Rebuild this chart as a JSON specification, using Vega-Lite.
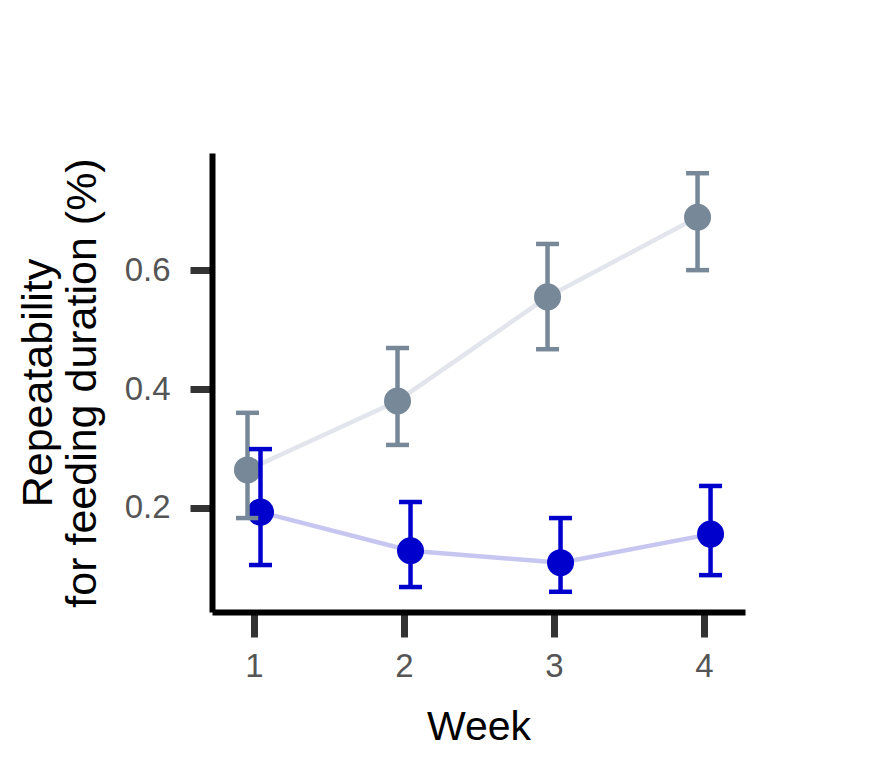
{
  "$schema": "https://vega.github.io/schema/vega-lite/v6.json",
  "width": 533,
  "height": 459,
  "autosize": {"type": "none"},
  "padding": {"left": 212, "top": 153, "right": 139, "bottom": 158},
  "background": "white",
  "config": {
    "view": {"stroke": null},
    "font": "Liberation Sans",
    "axis": {
      "grid": false,
      "domainColor": "black",
      "domainWidth": 6,
      "tickColor": "#333333",
      "tickWidth": 7,
      "labelFont": "Liberation Sans",
      "labelColor": "#555555",
      "titleFont": "Liberation Sans",
      "titleFontWeight": "normal",
      "titleColor": "black"
    }
  },
  "data": {
    "values": [
      {"week": 1, "group": "grey", "value": 0.264, "lower": 0.183, "upper": 0.360},
      {"week": 2, "group": "grey", "value": 0.380, "lower": 0.306, "upper": 0.469},
      {"week": 3, "group": "grey", "value": 0.555, "lower": 0.467, "upper": 0.644},
      {"week": 4, "group": "grey", "value": 0.689, "lower": 0.600, "upper": 0.763},
      {"week": 1, "group": "blue", "value": 0.193, "lower": 0.104, "upper": 0.299},
      {"week": 2, "group": "blue", "value": 0.128, "lower": 0.067, "upper": 0.210},
      {"week": 3, "group": "blue", "value": 0.108, "lower": 0.059, "upper": 0.183},
      {"week": 4, "group": "blue", "value": 0.156, "lower": 0.087, "upper": 0.237}
    ]
  },
  "encoding": {
    "x": {
      "field": "week",
      "type": "quantitative",
      "title": "Week",
      "scale": {"domain": [0.72, 4.273], "nice": false, "zero": false},
      "axis": {
        "values": [1, 2, 3, 4],
        "format": "d",
        "tickSize": 25,
        "labelFontSize": 33,
        "labelPadding": 13,
        "titleFontSize": 41,
        "titlePadding": 24
      }
    }
  },
  "layer": [
    {
      "transform": [{"filter": "datum.group == 'grey'"}],
      "mark": {"type": "line", "xOffset": -6.5, "color": "#e3e5ec", "strokeWidth": 4.5},
      "encoding": {
        "y": {
          "field": "value",
          "type": "quantitative",
          "title": ["Repeatability", "for feeding duration (%)"],
          "scale": {"domain": [0.025, 0.797], "nice": false, "zero": false},
          "axis": {
            "values": [0.2, 0.4, 0.6],
            "format": ".1f",
            "tickSize": 22,
            "labelFontSize": 33,
            "labelPadding": 20,
            "titleFontSize": 43,
            "titleLineHeight": 44,
            "titlePadding": 20
          }
        }
      }
    },
    {
      "transform": [{"filter": "datum.group == 'blue'"}],
      "mark": {"type": "line", "xOffset": 6.5, "color": "#c6c6f0", "strokeWidth": 4.5},
      "encoding": {"y": {"field": "value", "type": "quantitative"}}
    },
    {
      "transform": [{"filter": "datum.group == 'grey'"}],
      "mark": {"type": "circle", "xOffset": -6.5, "color": "#778899", "size": 730, "opacity": 1},
      "encoding": {"y": {"field": "value", "type": "quantitative"}}
    },
    {
      "transform": [{"filter": "datum.group == 'blue'"}],
      "mark": {"type": "circle", "xOffset": 6.5, "color": "#0000cd", "size": 730, "opacity": 1},
      "encoding": {"y": {"field": "value", "type": "quantitative"}}
    },
    {
      "transform": [{"filter": "datum.group == 'grey'"}],
      "mark": {"type": "rule", "xOffset": -6.5, "color": "#778899", "strokeWidth": 4.5},
      "encoding": {"y": {"field": "lower", "type": "quantitative"}, "y2": {"field": "upper"}}
    },
    {
      "transform": [{"filter": "datum.group == 'grey'"}],
      "mark": {"type": "tick", "orient": "horizontal", "xOffset": -6.5, "color": "#778899", "size": 23, "thickness": 4.5, "opacity": 1},
      "encoding": {"y": {"field": "lower", "type": "quantitative"}}
    },
    {
      "transform": [{"filter": "datum.group == 'grey'"}],
      "mark": {"type": "tick", "orient": "horizontal", "xOffset": -6.5, "color": "#778899", "size": 23, "thickness": 4.5, "opacity": 1},
      "encoding": {"y": {"field": "upper", "type": "quantitative"}}
    },
    {
      "transform": [{"filter": "datum.group == 'blue'"}],
      "mark": {"type": "rule", "xOffset": 6.5, "color": "#0000cd", "strokeWidth": 4.5},
      "encoding": {"y": {"field": "lower", "type": "quantitative"}, "y2": {"field": "upper"}}
    },
    {
      "transform": [{"filter": "datum.group == 'blue'"}],
      "mark": {"type": "tick", "orient": "horizontal", "xOffset": 6.5, "color": "#0000cd", "size": 23, "thickness": 4.5, "opacity": 1},
      "encoding": {"y": {"field": "lower", "type": "quantitative"}}
    },
    {
      "transform": [{"filter": "datum.group == 'blue'"}],
      "mark": {"type": "tick", "orient": "horizontal", "xOffset": 6.5, "color": "#0000cd", "size": 23, "thickness": 4.5, "opacity": 1},
      "encoding": {"y": {"field": "upper", "type": "quantitative"}}
    }
  ]
}
